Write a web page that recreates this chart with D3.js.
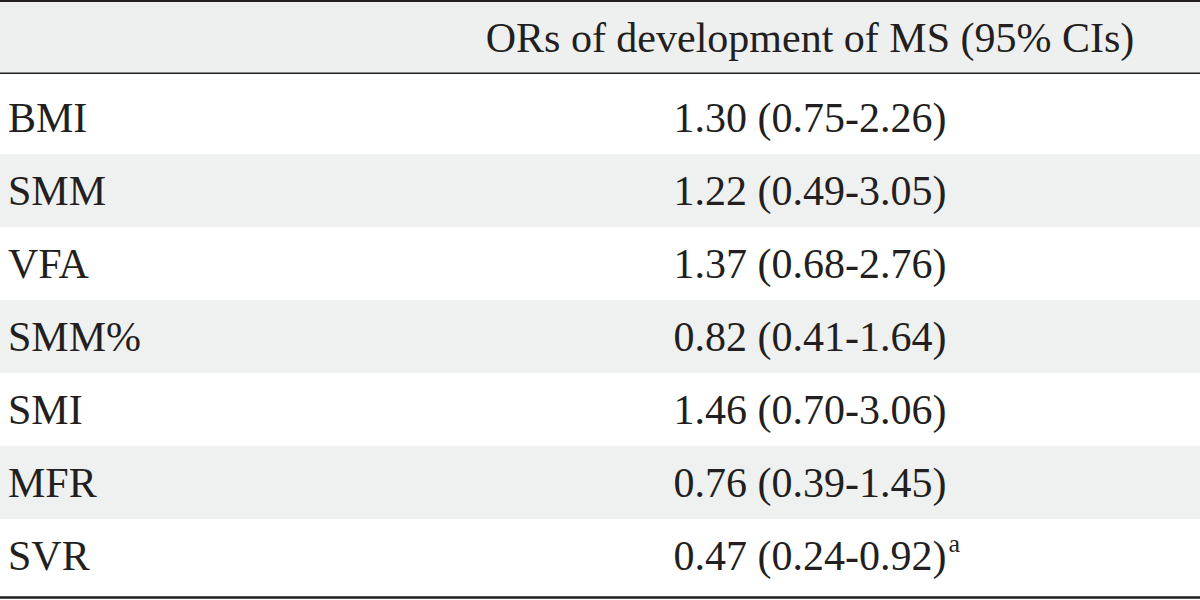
<!DOCTYPE html>
<html>
<head>
<meta charset="utf-8">
<script src="https://cdn.jsdelivr.net/npm/d3@7"></script>
<style>
  html, body { margin: 0; padding: 0; background: #fff; }
  svg { display: block; }
</style>
</head>
<body>
<svg id="chart" width="1200" height="600"></svg>
<script>
const header = "ORs of development of MS (95% CIs)";
const categories = ["BMI", "SMM", "VFA", "SMM%", "SMI", "MFR", "SVR"];
const ors = ["1.30", "1.22", "1.37", "0.82", "1.46", "0.76", "0.47"];
const ciLow = ["0.75", "0.49", "0.68", "0.41", "0.70", "0.39", "0.24"];
const ciHigh = ["2.26", "3.05", "2.76", "1.64", "3.06", "1.45", "0.92"];
const footnotes = ["", "", "", "", "", "", "a"];

const W = 1200, H = 600;
const ink = "#231f20";
const shade = "#eff0f0";
const font = "'Liberation Serif', 'Times New Roman', serif";
const fs = 42;

const svg = d3.select("#chart");

const y = d3.scaleBand().domain(categories).range([81, 81 + 73 * categories.length]).padding(0);
const colCenter = 810;
const labelX = 8;

// header band
svg.append("rect").attr("x", 0).attr("y", 1).attr("width", W).attr("height", 72).attr("fill", "#eeefef");

// row shading
svg.selectAll("rect.row").data(categories).enter().append("rect")
  .attr("class", "row")
  .attr("x", 0)
  .attr("y", d => y(d))
  .attr("width", W)
  .attr("height", y.bandwidth())
  .attr("fill", (d, i) => i % 2 === 1 ? shade : "#fff");

// first row extends up to header line
svg.append("rect").attr("x", 0).attr("y", 74).attr("width", W).attr("height", 7).attr("fill", "#fff");

// rules
svg.append("line").attr("x1", 0).attr("x2", W).attr("y1", 1).attr("y2", 1).attr("stroke", ink).attr("stroke-width", 2.2);
svg.append("line").attr("x1", 0).attr("x2", W).attr("y1", 73.2).attr("y2", 73.2).attr("stroke", ink).attr("stroke-width", 1.4);
svg.append("line").attr("x1", 0).attr("x2", W).attr("y1", 597.5).attr("y2", 597.5).attr("stroke", ink).attr("stroke-width", 2.4);

// header text
svg.append("text")
  .attr("x", colCenter).attr("y", 52)
  .attr("text-anchor", "middle")
  .attr("font-family", font).attr("font-size", fs).attr("fill", ink)
  .text(header);

// row labels
svg.selectAll("text.lab").data(categories).enter().append("text")
  .attr("class", "lab")
  .attr("x", labelX)
  .attr("y", d => y(d) + 51)
  .attr("font-family", font).attr("font-size", fs).attr("fill", ink)
  .text(d => d);

// values
const vals = svg.selectAll("text.val").data(categories).enter().append("text")
  .attr("class", "val")
  .attr("x", colCenter)
  .attr("y", d => y(d) + 51)
  .attr("text-anchor", "middle")
  .attr("font-family", font).attr("font-size", fs).attr("fill", ink)
  .text((d, i) => `${ors[i]} (${ciLow[i]}-${ciHigh[i]})`);

// footnote superscripts
vals.each(function(d, i) {
  if (!footnotes[i]) return;
  const bb = this.getBBox();
  svg.append("text")
    .attr("x", bb.x + bb.width + 2)
    .attr("y", y(d) + 33)
    .attr("font-family", font).attr("font-size", 26).attr("fill", ink)
    .text(footnotes[i]);
});
</script>
</body>
</html>
